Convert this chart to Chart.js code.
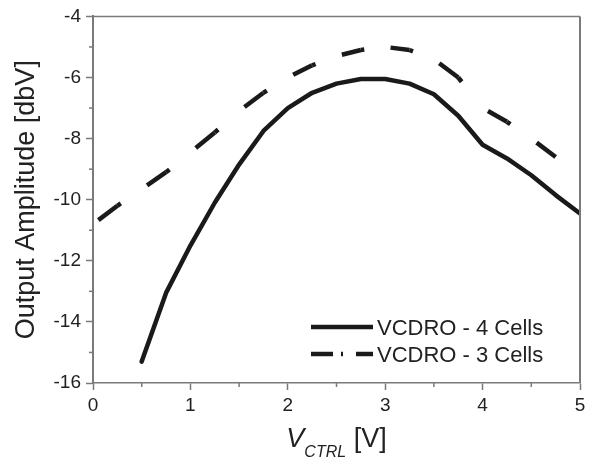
<!DOCTYPE html>
<html><head><meta charset="utf-8">
<script src="https://cdn.jsdelivr.net/npm/chart.js@4.4.1/dist/chart.umd.min.js"></script>
<style>html,body{margin:0;padding:0;background:#fff;}#wrap{width:594px;height:462px;position:relative;}</style>
</head><body><div id="wrap"><canvas id="c"></canvas></div>
<script>
const vctrl4 = [0.5,0.75,1.0,1.25,1.5,1.75,2.0,2.25,2.5,2.75,3.0,3.25,3.5,3.75,4.0,4.25,4.5,4.75,5.0];
const amp4 = [-15.3,-13.05,-11.5,-10.1,-8.85,-7.75,-7.0,-6.5,-6.2,-6.05,-6.05,-6.2,-6.55,-7.25,-8.2,-8.65,-9.2,-9.85,-10.45];
const vctrl3 = [0,0.25,0.5,0.75,1.0,1.25,1.5,1.75,2.0,2.25,2.5,2.75,3.0,3.25,3.5,3.75,4.0,4.25,4.5,4.75];
const amp3 = [-10.8,-10.2,-9.65,-9.1,-8.45,-7.8,-7.1,-6.5,-6.0,-5.6,-5.3,-5.1,-5.0,-5.1,-5.4,-6.0,-7.0,-7.45,-8.0,-8.6];
const seriesLabels = ['VCDRO - 4 Cells','VCDRO - 3 Cells'];
const xTicks = [0,1,2,3,4,5];
const yTicks = [-16,-14,-12,-10,-8,-6,-4];
const xMinor = [0.5,1.5,2.5,3.5,4.5];
const yMinor = [-15,-13,-11,-9,-7,-5];
const yTitle = 'Output Amplitude [dbV]';
const xTitleMain = 'V', xTitleSub = 'CTRL', xTitleUnit = ' [V]';

const FONT = 'Arial, "Liberation Sans", sans-serif';
const AXIS = '#7a7a7a';
const INK = '#1a1a1a';
const TXT = '#222';
// dash style for the 3-cell curve, expressed along the x axis (in axis units)
const DASH_PERIOD = 0.5, DASH_LEN = 0.23, DASH_START = 0.055;

function dashFor(c) {
  const xs = c.chart.scales.x;
  const unit = xs.getPixelForValue(1) - xs.getPixelForValue(0);
  const P = DASH_PERIOD * unit, D = DASH_LEN * unit, G = P - D;
  const x0 = xs.getPixelForValue(DASH_START);
  const dx = c.p1.x - c.p0.x, dy = c.p1.y - c.p0.y;
  const f = dx > 0 ? Math.hypot(dx, dy) / dx : 1;
  const ph = (((c.p0.x - x0) % P) + P) % P;
  return { dash: [D * f, G * f], offset: ph * f };
}

const framePlugin = {
  id: 'frame',
  afterDraw(chart) {
    const ctx = chart.ctx, a = chart.chartArea;
    const xs = chart.scales.x, ys = chart.scales.y;
    ctx.save();
    ctx.strokeStyle = AXIS;
    ctx.lineWidth = 1.5;
    ctx.beginPath(); ctx.moveTo(a.left, a.top); ctx.lineTo(a.right, a.top); ctx.stroke();
    ctx.lineWidth = 2;
    ctx.beginPath(); ctx.moveTo(a.right, a.top); ctx.lineTo(a.right, a.bottom); ctx.stroke();
    ctx.lineWidth = 1.5;
    xMinor.forEach(v => { const px = xs.getPixelForValue(v); ctx.beginPath(); ctx.moveTo(px, a.bottom); ctx.lineTo(px, a.bottom + 4); ctx.stroke(); });
    yMinor.forEach(v => { const py = ys.getPixelForValue(v); ctx.beginPath(); ctx.moveTo(a.left, py); ctx.lineTo(a.left - 4, py); ctx.stroke(); });
    // x title with subscript
    ctx.fillStyle = TXT;
    ctx.textBaseline = 'alphabetic';
    const fMain = 'italic 27px ' + FONT, fSub = 'italic 16px ' + FONT, fUnit = '27px ' + FONT;
    ctx.font = fMain; const w1 = ctx.measureText(xTitleMain).width;
    ctx.font = fSub; const w2 = ctx.measureText(xTitleSub).width;
    ctx.font = fUnit; const w3 = ctx.measureText(xTitleUnit).width;
    let x0 = (a.left + a.right) / 2 - (w1 + w2 + w3) / 2;
    const base = a.bottom + 64;
    ctx.font = fMain; ctx.fillText(xTitleMain, x0, base); x0 += w1;
    ctx.font = fSub; ctx.fillText(xTitleSub, x0, base + 10); x0 += w2;
    ctx.font = fUnit; ctx.fillText(xTitleUnit, x0, base);
    // legend
    const ds = chart.data.datasets;
    const rows = [a.bottom - 56, a.bottom - 29];
    const lx0 = a.right - 269, lx1 = a.right - 207;
    ctx.font = '22px ' + FONT;
    ds.forEach((d, i) => {
      const y = rows[i];
      ctx.strokeStyle = d.borderColor; ctx.lineWidth = 4.5; ctx.lineCap = 'butt';
      ctx.setLineDash([]);
      if (i === 0) {
        ctx.beginPath(); ctx.moveTo(lx0, y); ctx.lineTo(lx1, y); ctx.stroke();
      } else {
        ctx.beginPath(); ctx.moveTo(lx0, y); ctx.lineTo(lx0 + 22, y); ctx.stroke();
        ctx.beginPath(); ctx.moveTo(lx0 + 30, y); ctx.lineTo(lx0 + 32, y); ctx.stroke();
        ctx.beginPath(); ctx.moveTo(lx0 + 45, y); ctx.lineTo(lx1, y); ctx.stroke();
      }
      ctx.fillStyle = TXT;
      ctx.fillText(d.label, a.right - 203, y + 8);
    });
    ctx.restore();
  }
};

new Chart(document.getElementById('c'), {
  type: 'line',
  data: {
    datasets: [
      { label: seriesLabels[0], data: vctrl4.map((x, i) => ({x, y: amp4[i]})), borderColor: INK, borderWidth: 4.5, pointRadius: 0, fill: false, borderCapStyle: 'round', borderJoinStyle: 'round' },
      { label: seriesLabels[1], data: vctrl3.map((x, i) => ({x, y: amp3[i]})), borderColor: INK, borderWidth: 4.5, pointRadius: 0, fill: false, borderDash: [22, 27], borderCapStyle: 'butt', borderJoinStyle: 'miter',
        segment: { borderDash: c => dashFor(c).dash, borderDashOffset: c => dashFor(c).offset } }
    ]
  },
  options: {
    responsive: true, maintainAspectRatio: false, animation: false, devicePixelRatio: 1,
    layout: { padding: { top: 14, right: 14, left: 0, bottom: 0 } },
    plugins: { legend: { display: false }, tooltip: { enabled: false } },
    elements: { line: { tension: 0 } },
    scales: {
      x: {
        type: 'linear', min: 0, max: 5,
        afterBuildTicks: s => { s.ticks = xTicks.map(v => ({ value: v })); },
        grid: { drawOnChartArea: false, drawTicks: true, tickLength: 7, tickColor: AXIS, tickWidth: 1.5 },
        border: { display: true, color: AXIS, width: 1.5 },
        ticks: { font: { family: FONT, size: 19 }, color: TXT, padding: 4, maxRotation: 0 },
        afterFit: s => { s.height = 79; }
      },
      y: {
        type: 'linear', min: -16, max: -4,
        afterBuildTicks: s => { s.ticks = yTicks.map(v => ({ value: v })); },
        grid: { drawOnChartArea: false, drawTicks: true, tickLength: 7, tickColor: AXIS, tickWidth: 1.5 },
        border: { display: true, color: AXIS, width: 2 },
        ticks: { font: { family: FONT, size: 19 }, color: TXT, padding: 5 },
        title: { display: true, text: yTitle, font: { family: FONT, size: 27 }, color: TXT, padding: { top: 10, bottom: 0 } },
        afterFit: s => { s.width = 93; }
      }
    }
  },
  plugins: [framePlugin]
});
</script></body></html>
